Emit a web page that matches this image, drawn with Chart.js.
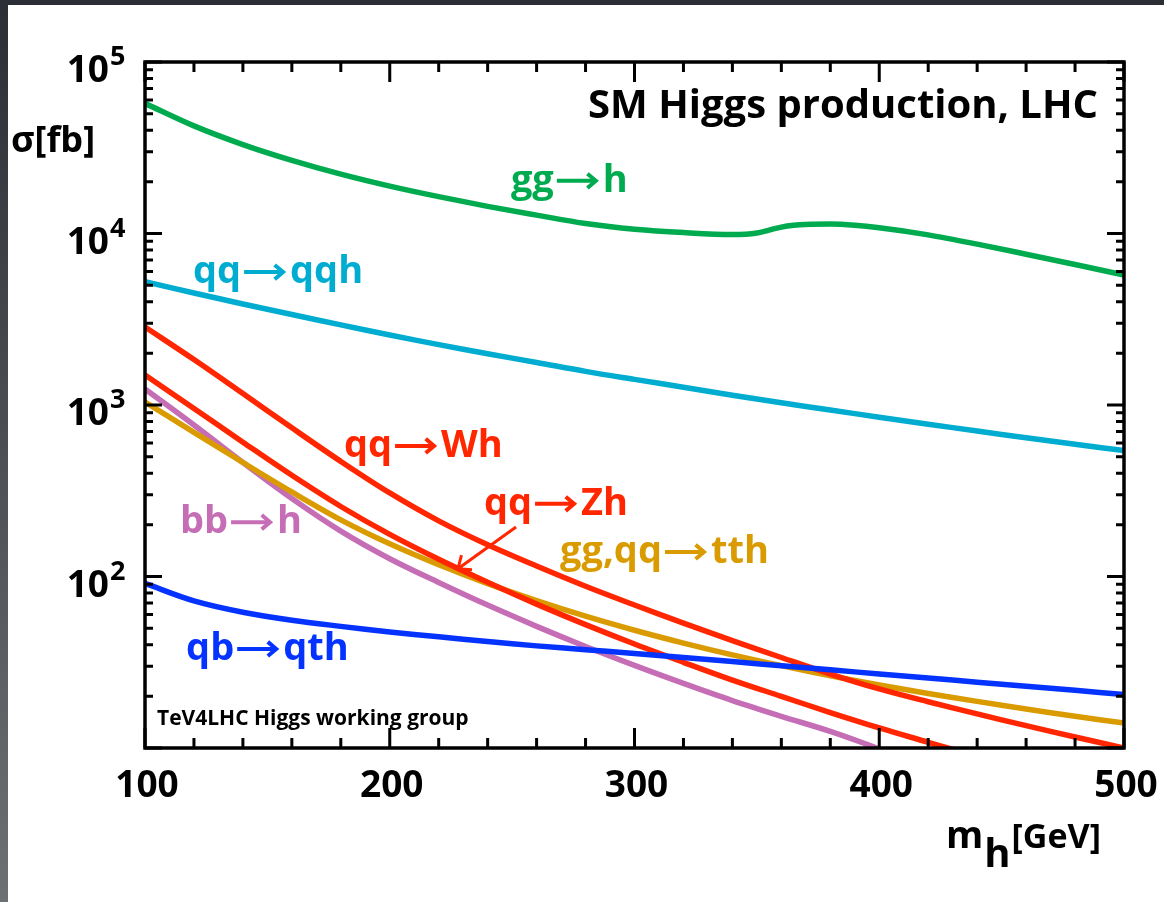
<!DOCTYPE html>
<html>
<head>
<meta charset="utf-8">
<script src="https://cdn.jsdelivr.net/npm/chart.js@4.4.1/dist/chart.umd.min.js"></script>
<style>
html, body { margin:0; padding:0; background:#fff; }
#topbar { position:absolute; left:0; top:0; width:1164px; height:5px; background:#2b2e34; }
#leftbar { position:absolute; left:0; top:0; width:8px; height:902px; background:linear-gradient(#2b2e34, #6d7073); }
#wrap { position:absolute; left:0; top:0; width:1164px; height:902px; }
</style>
</head>
<body>
<div id="topbar"></div>
<div id="leftbar"></div>
<div id="wrap"><canvas id="diagram" width="1164" height="902"></canvas></div>
<script>
// Higgs mass grid (GeV) and cross sections (fb)
const masses = [100,120,140,160,180,200,220,240,260,280,300,320,340,360,380,400,420,440,460,480,500];
const massesGG = [100,120,140,160,180,200,220,240,260,280,300,320,340,350,355,360,365,370,380,390,400,420,440,460,480,500];

const sigmaGG  = [57400,42400,33000,26700,22200,18900,16400,14400,12800,11430,10590,10120,9860,10070,10470,10900,11170,11300,11350,11170,10800,9820,8670,7570,6590,5730];
const sigmaVBF = [5240,4500,3880,3370,2930,2560,2250,1990,1770,1570,1410,1270,1140,1030,935,849,773,705,644,590,542];
const sigmaWH  = [2851,1841,1167,736,469,307,211,153,115,87.7,68.2,53.5,42.3,33.7,27.0,22.1,18.6,15.8,13.5,11.6,10.0];
const sigmaZH  = [1496,955,607,389,256,176,126,92.5,69.0,52.4,40.4,31.6,24.9,20.0,16.1,13.1,10.8,8.9,null,null,null];
const sigmaBBH = [1239,764,462,285,184,127,92.3,68.1,51.2,39.1,30.3,23.8,18.9,15.3,12.5,9.9,null,null,null,null,null];
const sigmaTTH = [1040,693,462,311,214,155,117,90.8,72.3,58.7,48.6,40.9,34.9,30.2,26.4,23.3,20.8,18.7,16.9,15.3,14.0];
const sigmaTH  = [91.2,72.1,61.9,55.6,51.2,47.5,44.5,41.8,39.4,37.4,35.6,33.7,31.9,30.2,28.6,27.0,25.6,24.2,22.9,21.7,20.5];

const xTickLabels = [100,200,300,400,500];
const yTickExponents = [2,3,4,5];

const GREEN = '#00aa4e', CYAN = '#00acd0', RED = '#ff2600', GOLD = '#d99b00', PINK = '#c56db5', BLUE = '#0433ff';

// process labels: [text before arrow, text after arrow, colour, mass, sigma at baseline]
const curveLabels = [
  ['gg', 'h', GREEN, 249.5, 17500],
  ['qq', 'qqh', CYAN, 119.6, 5140],
  ['qq', 'Wh', RED, 181.3, 498],
  ['qq', 'Zh', RED, 238.5, 229],
  ['gg,qq', 'tth', GOLD, 269.6, 120],
  ['bb', 'h', PINK, 114.3, 179],
  ['qb', 'qth', BLUE, 116.8, 32.6]
];
const zhPointer = [[251.6, 194.6], [227.9, 111]];

const FONT = '"Open Sans", "DejaVu Sans", sans-serif';

function pts(xs, ys) {
  return xs.map((m, i) => ({x: m, y: ys[i]}));
}

function curve(data, color, monotone) {
  return {
    data: data,
    borderColor: color,
    borderWidth: 5.5,
    pointRadius: 0,
    fill: false,
    tension: 0.35,
    cubicInterpolationMode: monotone ? 'monotone' : 'default',
    spanGaps: false
  };
}

function text(ctx, s, x, y, size, color, align) {
  ctx.font = 'bold ' + size + 'px ' + FONT;
  ctx.fillStyle = color;
  ctx.textAlign = align || 'left';
  ctx.textBaseline = 'alphabetic';
  ctx.fillText(s, x, y);
  return ctx.measureText(s).width;
}

function arrow(ctx, x1, y1, x2, y2, color, width, head) {
  const ang = Math.atan2(y2 - y1, x2 - x1);
  ctx.strokeStyle = color;
  ctx.lineWidth = width;
  ctx.lineCap = 'butt';
  ctx.lineJoin = 'miter';
  ctx.beginPath();
  ctx.moveTo(x1, y1);
  ctx.lineTo(x2 - Math.cos(ang) * 2, y2 - Math.sin(ang) * 2);
  ctx.stroke();
  ctx.beginPath();
  ctx.moveTo(x2 - head * Math.cos(ang - 0.7), y2 - head * Math.sin(ang - 0.7));
  ctx.lineTo(x2, y2);
  ctx.lineTo(x2 - head * Math.cos(ang + 0.7), y2 - head * Math.sin(ang + 0.7));
  ctx.stroke();
}

const decorations = {
  id: 'decorations',
  afterDatasetsDraw(chart) {
    const ctx = chart.ctx, a = chart.chartArea;
    const xs = chart.scales.x, ys = chart.scales.y;
    ctx.save();
    ctx.strokeStyle = '#000';
    ctx.lineWidth = 3;
    ctx.lineCap = 'butt';

    // x ticks, bottom and top
    for (let m = 100; m <= 500; m += 20) {
      const px = xs.getPixelForValue(m);
      const len = (m % 100 === 0) ? 20 : 10;
      ctx.beginPath();
      ctx.moveTo(px, a.bottom); ctx.lineTo(px, a.bottom - len);
      ctx.moveTo(px, a.top); ctx.lineTo(px, a.top + len);
      ctx.stroke();
    }
    // y ticks, left and right
    for (let d = 10; d <= 1e5; d *= 10) {
      for (let k = 1; k <= 9; k++) {
        const v = d * k;
        if (v > 1e5) break;
        const py = ys.getPixelForValue(v);
        const len = (k === 1) ? 17 : 8;
        ctx.beginPath();
        ctx.moveTo(a.left, py); ctx.lineTo(a.left + len, py);
        ctx.moveTo(a.right, py); ctx.lineTo(a.right - len, py);
        ctx.stroke();
      }
    }
    ctx.lineWidth = 3.5;
    ctx.strokeRect(a.left, a.top, a.right - a.left, a.bottom - a.top);

    // tick labels
    xTickLabels.forEach(m => {
      text(ctx, String(m), xs.getPixelForValue(m) + 2, a.bottom + 49, 37, '#000', 'center');
    });
    yTickExponents.forEach(e => {
      const py = ys.getPixelForValue(Math.pow(10, e));
      text(ctx, '10', a.left - 36, py + 20, 37, '#000', 'right');
      text(ctx, String(e), a.left - 35, py + 3, 27, '#000', 'left');
    });

    // axis titles
    text(ctx, '\u03c3[fb]', 11, 152, 36, '#000');
    let tx = 946;
    tx += text(ctx, 'm', tx, 848, 38, '#000') + 1;
    tx += text(ctx, 'h', tx, 867, 40, '#000') + 1;
    text(ctx, '[GeV]', tx, 848, 34, '#000');

    text(ctx, 'SM Higgs production, LHC', 1098, 118, 40, '#000', 'right');
    text(ctx, 'TeV4LHC Higgs working group', 157, 725, 21, '#000');

    // process labels
    curveLabels.forEach(l => {
      const x0 = xs.getPixelForValue(l[3]);
      const y0 = ys.getPixelForValue(l[4]);
      const w1 = text(ctx, l[0], x0, y0, 38, l[2]);
      const ay = y0 - 11;
      arrow(ctx, x0 + w1 + 3, ay, x0 + w1 + 42, ay, l[2], 4, 11);
      text(ctx, l[1], x0 + w1 + 49, y0, 38, l[2]);
    });

    const p1 = zhPointer[0], p2 = zhPointer[1];
    arrow(ctx, xs.getPixelForValue(p1[0]), ys.getPixelForValue(p1[1]),
          xs.getPixelForValue(p2[0]), ys.getPixelForValue(p2[1]), RED, 3, 14);
    ctx.restore();
  }
};

const chart = new Chart(document.getElementById('diagram').getContext('2d'), {
  type: 'line',
  data: {
    datasets: [
      curve(pts(massesGG, sigmaGG), GREEN, true),
      curve(pts(masses, sigmaVBF), CYAN),
      curve(pts(masses, sigmaTH), BLUE),
      curve(pts(masses, sigmaWH), RED),
      curve(pts(masses, sigmaZH), RED),
      curve(pts(masses, sigmaTTH), GOLD),
      curve(pts(masses, sigmaBBH), PINK)
    ]
  },
  options: {
    responsive: false,
    animation: false,
    devicePixelRatio: 1,
    layout: { padding: { left: 145, top: 62, right: 40, bottom: 154 } },
    plugins: { legend: { display: false }, tooltip: { enabled: false } },
    scales: {
      x: { type: 'linear', min: 100, max: 500, display: false },
      y: { type: 'logarithmic', min: 10, max: 100000, display: false }
    }
  },
  plugins: [decorations]
});
</script>
</body>
</html>
